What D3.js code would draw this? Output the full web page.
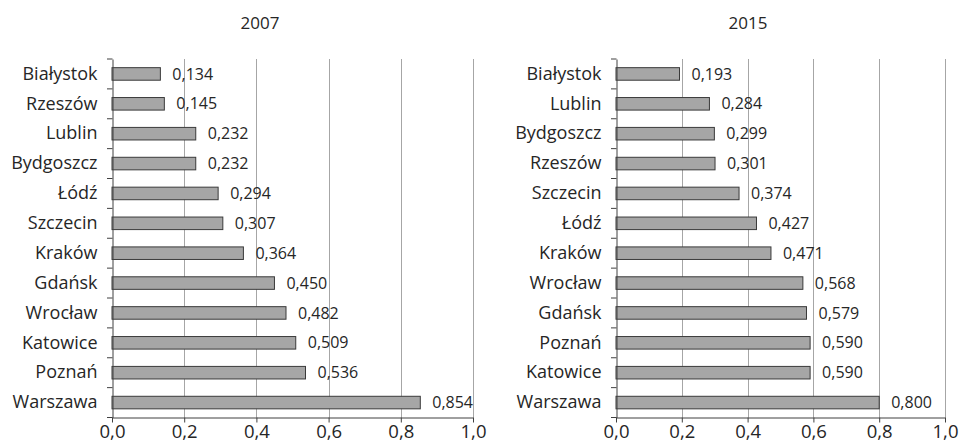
<!DOCTYPE html>
<html>
<head>
<meta charset="utf-8">
<script src="https://cdn.jsdelivr.net/npm/d3@7"></script>
<style>
  body { margin: 0; background: #fff; }
  text { font-family: "Open Sans", sans-serif; fill: #262626; }
</style>
</head>
<body>
<script>
// DATA
const cities2007 = ["Białystok", "Rzeszów", "Lublin", "Bydgoszcz", "Łódź", "Szczecin",
                    "Kraków", "Gdańsk", "Wrocław", "Katowice", "Poznań", "Warszawa"];
const values2007 = [0.134, 0.145, 0.232, 0.232, 0.294, 0.307, 0.364, 0.450, 0.482, 0.509, 0.536, 0.854];

const cities2015 = ["Białystok", "Lublin", "Bydgoszcz", "Rzeszów", "Szczecin", "Łódź",
                    "Kraków", "Wrocław", "Gdańsk", "Poznań", "Katowice", "Warszawa"];
const values2015 = [0.193, 0.284, 0.299, 0.301, 0.374, 0.427, 0.471, 0.568, 0.579, 0.590, 0.590, 0.800];

const xTicks = [0, 0.2, 0.4, 0.6, 0.8, 1.0];
const titles = ["2007", "2015"];

// LAYOUT
const width = 962, height = 444;
const plotTop = 59, plotBottom = 417.5;

const pl = d3.formatLocale({decimal: ",", thousands: " ", grouping: [3], currency: ["", " zł"]});
const fmtValue = pl.format(".3f");
const fmtTick = pl.format(".1f");

const svg = d3.select("body").append("svg")
    .attr("width", width)
    .attr("height", height);

const panels = [
  {title: titles[0], cities: cities2007, values: values2007, left: 112, right: 473, titleX: 260},
  {title: titles[1], cities: cities2015, values: values2015, left: 616, right: 945, titleX: 748}
];

panels.forEach(p => {
  const g = svg.append("g");

  const x = d3.scaleLinear().domain([0, 1]).range([p.left, p.right]);
  const y = d3.scaleBand()
      .domain(p.cities)
      .range([plotTop, plotBottom])
      .paddingInner(0.58)
      .paddingOuter(0.29);

  // title
  g.append("text")
      .attr("x", p.titleX)
      .attr("y", 29)
      .attr("text-anchor", "middle")
      .style("font-size", "17px")
      .text(p.title);

  // gridlines
  g.selectAll(".grid").data(xTicks.filter(d => d > 0)).enter()
    .append("line")
      .attr("x1", d => Math.round(x(d)) + 0.5)
      .attr("x2", d => Math.round(x(d)) + 0.5)
      .attr("y1", plotTop)
      .attr("y2", plotBottom)
      .attr("stroke", "#a6a6a6")
      .attr("stroke-width", 1);

  // bars
  g.selectAll(".bar").data(p.values).enter()
    .append("rect")
      .attr("x", x(0))
      .attr("y", (d, i) => y(p.cities[i]))
      .attr("width", d => x(d) - x(0))
      .attr("height", y.bandwidth())
      .attr("fill", "#a6a6a6")
      .attr("stroke", "#3a3a3a")
      .attr("stroke-width", 1);

  // value labels
  g.selectAll(".val").data(p.values).enter()
    .append("text")
      .attr("x", d => x(d) + 12)
      .attr("y", (d, i) => y(p.cities[i]) + y.bandwidth() / 2)
      .attr("dy", "0.35em")
      .style("font-size", "16px")
      .text(d => fmtValue(d));

  // y axis (labels + line)
  const yAxis = g.append("g")
      .attr("transform", `translate(${Math.round(p.left) + 0.5},0)`)
      .call(d3.axisLeft(y).tickSize(0).tickPadding(15));
  yAxis.select(".domain").attr("stroke", "#404040");
  yAxis.selectAll("text").style("font-size", "18px").style("font-family", "'Open Sans', sans-serif");

  // y ticks at band boundaries
  const step = y.step();
  g.selectAll(".ytick").data(d3.range(p.cities.length + 1)).enter()
    .append("line")
      .attr("x1", Math.round(p.left) - 5)
      .attr("x2", Math.round(p.left) + 0.5)
      .attr("y1", i => plotTop + i * step)
      .attr("y2", i => plotTop + i * step)
      .attr("stroke", "#404040");

  // x axis
  const xAxis = g.append("g")
      .attr("transform", `translate(0,${plotBottom})`)
      .call(d3.axisBottom(x).tickValues(xTicks).tickSize(5).tickPadding(2).tickFormat(fmtTick).tickSizeOuter(0));
  xAxis.select(".domain").attr("stroke", "#404040");
  xAxis.selectAll(".tick line").attr("stroke", "#404040");
  xAxis.selectAll("text").style("font-size", "18.5px").style("font-family", "'Open Sans', sans-serif");
});
</script>
</body>
</html>
